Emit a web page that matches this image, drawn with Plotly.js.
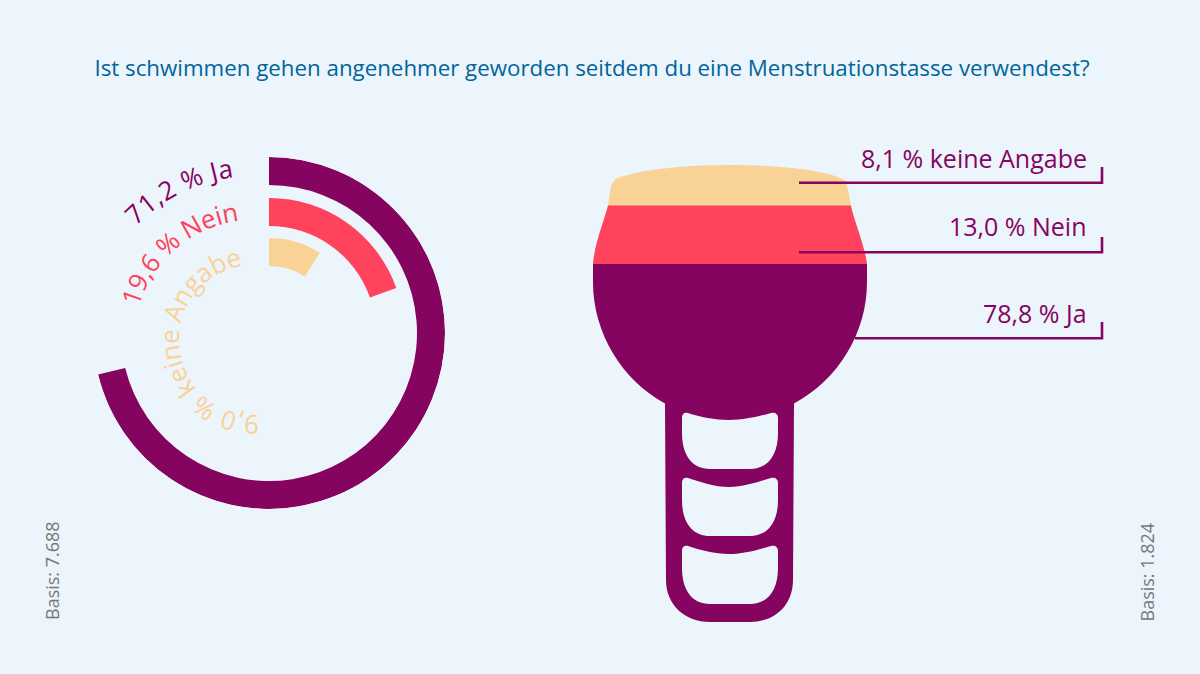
<!DOCTYPE html>
<html><head><meta charset="utf-8">
<script src="https://cdn.plot.ly/plotly-3.0.1.min.js"></script>
<style>html,body{margin:0;padding:0;background:#ECF4FC}#c{width:1200px;height:674px}</style>
</head><body><div id="c"></div>
<script>
// ---- data ----
const titleText = "Ist schwimmen gehen angenehmer geworden seitdem du eine Menstruationstasse verwendest?";
const ringCategories = ["Ja", "Nein", "keine Angabe"];
const ringValues = [71.2, 19.6, 9.0];
const cupCategories = ["keine Angabe", "Nein", "Ja"];
const cupValues = [8.1, 13.0, 78.8];
const basisLeft = "Basis: 7.688";
const basisRight = "Basis: 1.824";

// ---- style ----
const PURPLE = "#85045F", RED = "#FF435C", SAND = "#F9D296", BG = "#ECF4FC", BLUE = "#00659B", GREY = "#777777";
const FONT = "Open Sans, sans-serif";
const ringColors = [PURPLE, RED, SAND];
const fmt = v => v.toFixed(1).replace(".", ",") + " %";

// ring geometry (px: outer radius of the polar plot = 176)
const ringBase = [148, 107, 67], ringThick = 28;
const cx = 269, cy = 333, R = 176;

const bars = {
  type: "barpolar",
  subplot: "polar",
  r: ringValues.map(() => ringThick),
  base: ringBase,
  theta: ringValues.map(v => v * 3.6 / 2),
  width: ringValues.map(v => v * 3.6),
  marker: {color: ringColors, line: {width: 0}},
  hoverinfo: "skip",
  showlegend: false
};
const anchor = {type: "scatter", x: [0, 1200], y: [0, 674], mode: "none", hoverinfo: "skip", showlegend: false};

function hole(t, m, b) {
  return `M688,${t} C700,${t+4} 715,${m} 729,${m} C745,${m} 760,${t+3} 771,${t} C775,${t-1} 778,${t+1} 778,${t+5} ` +
         `L778,${b-36} C778,${b-14} 768,${b} 750,${b} L710,${b} C692,${b} 682,${b-14} 682,${b-36} L682,${t+5} C682,${t+1} 684,${t-1} 688,${t} Z`;
}
const bandSand = "M608,206 C610,195 610,184 614,181 C616,178 618,178 620,177 C650,168 690,165 730,165 C775,165 820,169 843,179 C848,183 849,195 851,206 Z";
const bandRed = "M608,205.5 L851,205.5 C853,218 865,245 867,264.5 L593,264.5 C594,245 605,218 608,205.5 Z";
const bandPurple = "M593,264 L867,264 L867,282 C867,333 838,380 794,403.5 L793,580 C793,605 775,622 750,622 L710,622 C685,622 666,605 666,580 L665,403.5 C622,380 593,333 593,282 Z " +
  hole(413, 420, 469) + " " + hole(478, 487, 536) + " " + hole(546, 554, 604);

const pathShape = (p, c) => ({type: "path", xref: "x", yref: "y", path: p, fillcolor: c, fillrule: "evenodd", line: {width: 0}, layer: "above"});
const leader = (x0, y, top) => ({type: "path", xref: "x", yref: "y", path: `M${x0},${y} L1102,${y} L1102,${top}`, line: {color: PURPLE, width: 2.6}, layer: "above"});

const leaders = [[799, 182.7, 167], [799, 252.3, 237], [855, 338.3, 322]];
const labelY = [157.5, 225.5, 312.5];

const annotations = cupCategories.map((c, i) => ({
  xref: "x", yref: "y", x: 1088.5, y: labelY[i], xanchor: "right", yanchor: "middle", showarrow: false,
  text: fmt(cupValues[i]) + " " + c, font: {family: FONT, size: 25, color: PURPLE}
})).concat([
  {xref: "x", yref: "y", x: 51.5, y: 570.5, textangle: -90, showarrow: false, text: basisLeft, font: {family: FONT, size: 18, color: GREY}},
  {xref: "x", yref: "y", x: 1146.5, y: 572, textangle: -90, showarrow: false, text: basisRight, font: {family: FONT, size: 18, color: GREY}}
]);

const layout = {
  width: 1200, height: 674,
  margin: {l: 0, r: 0, t: 0, b: 0},
  paper_bgcolor: BG, plot_bgcolor: BG,
  showlegend: false,
  title: {text: titleText, x: 592 / 1200, xanchor: "center", xref: "paper", y: 1 - 68.5 / 674, yanchor: "middle", font: {family: FONT, size: 22.3, weight: 500, color: BLUE}},
  xaxis: {visible: false, range: [0, 1200], domain: [0, 1], fixedrange: true},
  yaxis: {visible: false, range: [674, 0], domain: [0, 1], fixedrange: true},
  polar: {
    domain: {x: [(cx - R) / 1200, (cx + R) / 1200], y: [1 - (cy + R) / 674, 1 - (cy - R) / 674]},
    bgcolor: "rgba(0,0,0,0)",
    radialaxis: {visible: false, range: [0, R]},
    angularaxis: {visible: false, rotation: 90, direction: "clockwise"}
  },
  shapes: [pathShape(bandSand, SAND), pathShape(bandRed, RED), pathShape(bandPurple, PURPLE)]
    .concat(leaders.map(l => leader(l[0], l[1], l[2]))),
  annotations
};

// curved labels: concentric baselines, angles clockwise from top
const arcCx = 254, arcCy = 340;
const arcs = [
  {r: 164, a0: -46,  a1: -7, size: 26},
  {r: 120, a0: -74,  a1: -7, size: 26},
  {r: 75,  a0: -184, a1: -9, size: 26}
];
Plotly.newPlot("c", [bars, anchor], layout, {displayModeBar: false, staticPlot: true}).then(() => {
  const NS = "http://www.w3.org/2000/svg";
  const svgs = document.querySelectorAll("#c .main-svg");
  const svg = svgs[svgs.length - 1];
  const g = document.createElementNS(NS, "g");
  g.setAttribute("class", "curved-labels");
  arcs.forEach((a, i) => {
    const pt = d => [arcCx + a.r * Math.sin(d * Math.PI / 180), arcCy - a.r * Math.cos(d * Math.PI / 180)];
    const s = pt(a.a0), e = pt(a.a1 + 15);
    const path = document.createElementNS(NS, "path");
    path.setAttribute("id", "arc" + i);
    path.setAttribute("d", `M${s[0]},${s[1]} A${a.r},${a.r} 0 ${(a.a1 + 15 - a.a0) > 180 ? 1 : 0} 1 ${e[0]},${e[1]}`);
    path.setAttribute("fill", "none");
    g.appendChild(path);
    const t = document.createElementNS(NS, "text");
    t.setAttribute("style", `font-family:'Open Sans',sans-serif;font-size:${a.size}px;fill:${ringColors[i]}`);
    const tp = document.createElementNS(NS, "textPath");
    tp.setAttribute("href", "#arc" + i);
    tp.setAttribute("textLength", (a.r * (a.a1 - a.a0) * Math.PI / 180).toFixed(1));
    tp.setAttribute("lengthAdjust", "spacing");
    tp.textContent = fmt(ringValues[i]) + " " + ringCategories[i];
    t.appendChild(tp);
    g.appendChild(t);
  });
  svg.appendChild(g);
});
</script>
</body></html>
